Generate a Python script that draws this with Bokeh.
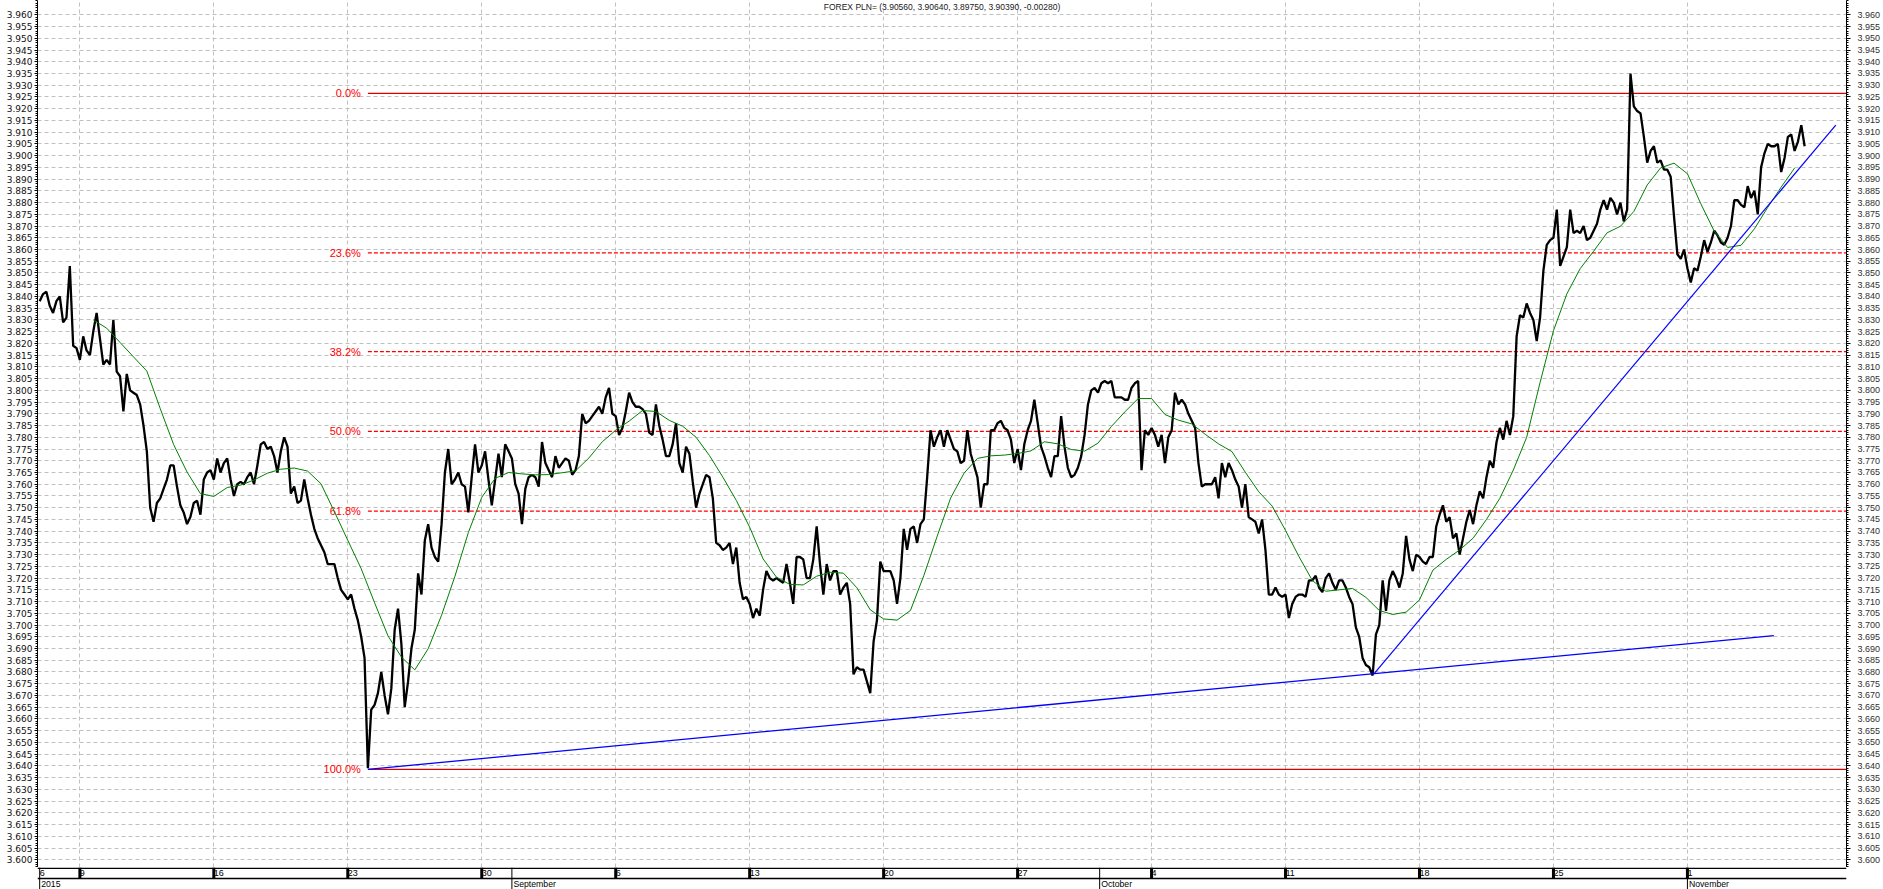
from bokeh.plotting import figure
from bokeh.models import Range1d, FixedTicker, NumeralTickFormatter, LinearAxis, Label, Span
from bokeh.layouts import column
from bokeh.embed import file_html
from bokeh.resources import INLINE
from bokeh.core.properties import value

TITLE = "FOREX PLN= (3.90560, 3.90640, 3.89750, 3.90390, -0.00280)"

# 3-hour bars (8 per trading day); bar 0 = Thu 6 Aug 2015
price = [
    3.838, 3.841, 3.842, 3.836, 3.833, 3.838, 3.840, 3.829, 3.831, 3.853,
    3.819, 3.818, 3.813, 3.823, 3.817, 3.815, 3.825, 3.833, 3.822, 3.811,
    3.813, 3.811, 3.830, 3.808, 3.806, 3.791, 3.807, 3.800, 3.799, 3.798,
    3.794, 3.785, 3.774, 3.750, 3.744, 3.752, 3.754, 3.758, 3.762, 3.768,
    3.768, 3.759, 3.751, 3.748, 3.743, 3.746, 3.752, 3.753, 3.747, 3.762,
    3.765, 3.766, 3.762, 3.771, 3.765, 3.769, 3.771, 3.762, 3.755, 3.760,
    3.761, 3.760, 3.763, 3.765, 3.760, 3.768, 3.777, 3.778, 3.775, 3.776,
    3.772, 3.765, 3.774, 3.780, 3.776, 3.756, 3.759, 3.752, 3.753, 3.762,
    3.754, 3.747, 3.741, 3.737, 3.734, 3.731, 3.726, 3.726, 3.726, 3.720,
    3.715, 3.713, 3.711, 3.713, 3.707, 3.702, 3.695, 3.686, 3.639, 3.664,
    3.666, 3.671, 3.680, 3.670, 3.662, 3.673, 3.698, 3.707, 3.692, 3.665,
    3.676, 3.690, 3.698, 3.722, 3.713, 3.736, 3.743, 3.733, 3.729, 3.727,
    3.743, 3.765, 3.775, 3.760, 3.762, 3.765, 3.760, 3.759, 3.748, 3.763,
    3.777, 3.765, 3.768, 3.774, 3.762, 3.751, 3.762, 3.773, 3.763, 3.777,
    3.774, 3.771, 3.760, 3.756, 3.743, 3.758, 3.763, 3.764, 3.763, 3.759,
    3.778, 3.769, 3.766, 3.763, 3.772, 3.767, 3.769, 3.771, 3.770, 3.764,
    3.766, 3.772, 3.790, 3.786, 3.787, 3.789, 3.791, 3.793, 3.790, 3.797,
    3.801, 3.790, 3.789, 3.781, 3.784, 3.791, 3.799, 3.795, 3.793, 3.793,
    3.792, 3.790, 3.782, 3.781, 3.794, 3.785, 3.779, 3.772, 3.772, 3.777,
    3.786, 3.769, 3.765, 3.776, 3.773, 3.761, 3.750, 3.756, 3.760, 3.764,
    3.763, 3.754, 3.735, 3.734, 3.732, 3.733, 3.735, 3.726, 3.733, 3.718,
    3.711, 3.712, 3.709, 3.703, 3.707, 3.704, 3.715, 3.723, 3.720, 3.719,
    3.720, 3.719, 3.718, 3.726, 3.718, 3.709, 3.729, 3.729, 3.728, 3.720,
    3.720, 3.728, 3.742, 3.726, 3.713, 3.726, 3.719, 3.723, 3.723, 3.713,
    3.716, 3.718, 3.709, 3.679, 3.682, 3.681, 3.681, 3.676, 3.671, 3.693,
    3.702, 3.727, 3.723, 3.723, 3.723, 3.719, 3.709, 3.720, 3.741, 3.732,
    3.741, 3.742, 3.735, 3.743, 3.745, 3.763, 3.783, 3.776, 3.780, 3.783,
    3.776, 3.783, 3.779, 3.775, 3.774, 3.769, 3.770, 3.783, 3.773, 3.768,
    3.763, 3.750, 3.760, 3.760, 3.783, 3.783, 3.786, 3.787, 3.784, 3.783,
    3.779, 3.769, 3.775, 3.766, 3.777, 3.783, 3.787, 3.796, 3.786, 3.776,
    3.772, 3.767, 3.763, 3.772, 3.772, 3.789, 3.776, 3.767, 3.763, 3.764,
    3.767, 3.772, 3.781, 3.794, 3.800, 3.801, 3.799, 3.803, 3.804, 3.803,
    3.804, 3.797, 3.797, 3.797, 3.796, 3.796, 3.801, 3.803, 3.804, 3.766,
    3.783, 3.781, 3.784, 3.781, 3.776, 3.781, 3.769, 3.780, 3.783, 3.799,
    3.794, 3.796, 3.794, 3.790, 3.787, 3.784, 3.769, 3.759, 3.760, 3.760,
    3.760, 3.763, 3.754, 3.769, 3.763, 3.769, 3.766, 3.762, 3.759, 3.750,
    3.760, 3.746, 3.745, 3.744, 3.739, 3.745, 3.732, 3.713, 3.713, 3.716,
    3.713, 3.712, 3.713, 3.703, 3.709, 3.712, 3.713, 3.713, 3.712, 3.719,
    3.719, 3.721, 3.716, 3.714, 3.720, 3.722, 3.718, 3.715, 3.719, 3.719,
    3.716, 3.712, 3.709, 3.699, 3.695, 3.686, 3.683, 3.682, 3.6785, 3.696,
    3.700, 3.719, 3.706, 3.719, 3.723, 3.720, 3.716, 3.722, 3.738, 3.728,
    3.723, 3.730, 3.729, 3.727, 3.726, 3.729, 3.729, 3.742, 3.747, 3.751,
    3.744, 3.746, 3.737, 3.739, 3.730, 3.737, 3.744, 3.749, 3.743, 3.751,
    3.757, 3.754, 3.763, 3.770, 3.767, 3.778, 3.784, 3.779, 3.787, 3.781,
    3.789, 3.823, 3.832, 3.831, 3.837, 3.833, 3.830, 3.821, 3.831, 3.851,
    3.862, 3.864, 3.865, 3.877, 3.853, 3.857, 3.861, 3.877, 3.867, 3.868,
    3.867, 3.870, 3.864, 3.865, 3.868, 3.871, 3.877, 3.881, 3.877, 3.882,
    3.880, 3.875, 3.880, 3.872, 3.877, 3.935, 3.921, 3.919, 3.918, 3.908,
    3.897, 3.902, 3.904, 3.897, 3.898, 3.894, 3.894, 3.891, 3.874, 3.858,
    3.856, 3.860, 3.852, 3.846, 3.852, 3.851, 3.857, 3.864, 3.859, 3.863,
    3.868, 3.866, 3.863, 3.862, 3.865, 3.870, 3.881, 3.881, 3.879, 3.878,
    3.887, 3.882, 3.885, 3.875, 3.895, 3.901, 3.905, 3.904, 3.904, 3.905,
    3.893, 3.899, 3.908, 3.909, 3.902, 3.906, 3.913, 3.904,
]
bars = list(range(len(price)))

# moving average, read every half trading day (every 4 bars from bar 16)
ma_first_bar = 16
ma_every = 4
ma = [
    3.8300, 3.8265, 3.8204, 3.8143, 3.8082, 3.7922, 3.7769, 3.7652, 3.7560, 3.7548,
    3.7586, 3.7596, 3.7618, 3.7647, 3.7664, 3.7669, 3.7656, 3.7602, 3.7483, 3.7361,
    3.7240, 3.7095, 3.6954, 3.6864, 3.6809, 3.6899, 3.7042, 3.7208, 3.7394, 3.7544,
    3.7625, 3.7650, 3.7644, 3.7640, 3.7641, 3.7649, 3.7657, 3.7712, 3.7781, 3.7830,
    3.7869, 3.7914, 3.7910, 3.7872, 3.7847, 3.7800, 3.7722, 3.7630, 3.7531, 3.7417,
    3.7282, 3.7204, 3.7173, 3.7171, 3.7208, 3.7225, 3.7221, 3.7159, 3.7065, 3.7026,
    3.7021, 3.7062, 3.7211, 3.7379, 3.7541, 3.7647, 3.7710, 3.7721, 3.7724, 3.7731,
    3.7742, 3.7781, 3.7772, 3.7748, 3.7741, 3.7775, 3.7846, 3.7908, 3.7965, 3.7965,
    3.7897, 3.7873, 3.7857, 3.7813, 3.7772, 3.7739, 3.7651, 3.7568, 3.7507, 3.7403,
    3.7292, 3.7190, 3.7144, 3.7150, 3.7156, 3.7118, 3.7062, 3.7045, 3.7055, 3.7107,
    3.7234, 3.7280, 3.7320, 3.7370, 3.7450, 3.7540, 3.7660, 3.7800, 3.8033, 3.8254,
    3.8411, 3.8519, 3.8593, 3.8671, 3.8699, 3.8762, 3.8875, 3.8948, 3.8968, 3.8923,
    3.8795, 3.8678, 3.8609, 3.8618, 3.8688, 3.8780, 3.8866, 3.8947,
]
ma_bars = [ma_first_bar + ma_every * k for k in range(len(ma))]

# Fibonacci retracement (from the 24 Aug low to the November high)
fib_start_bar = 98
fib_high = 3.9265
fib_low = 3.6385
fib_ratios = [0.0, 0.236, 0.382, 0.5, 0.618, 1.0]
fib_labels = ["0.0%", "23.6%", "38.2%", "50.0%", "61.8%", "100.0%"]
fib_levels = [fib_high - r * (fib_high - fib_low) for r in fib_ratios]

# trend lines
trend1_x = [98, 517.8]
trend1_y = [3.6385, 3.6955]
trend2_x = [398.4, 536.3]
trend2_y = [3.6792, 3.9130]

# axes
x_min, x_max = -0.65, 539.5
y_min, y_max = 3.5967, 3.9661
y_major = [round(3.600 + 0.005 * k, 3) for k in range(73)]
y_minor = [round(3.597 + 0.001 * k, 3) for k in range(370)]
week_bars = [12 + 40 * k for k in range(13)]
week_labels = ["9", "16", "23", "30", "6", "13", "20", "27", "4", "11", "18", "25", "1"]
first_label = "6"
month_bars = [0, 141, 316.5, 492]
month_labels = ["2015", "September", "October", "November"]

FONT = "Liberation Sans"
GRID = "#c0c0c0"

p = figure(width=1883, height=867, x_range=Range1d(x_min, x_max), y_range=Range1d(y_min, y_max),
           x_axis_location=None, y_axis_location="left", toolbar_location=None,
           output_backend="svg", min_border_left=37, min_border_right=35,
           min_border_top=0, min_border_bottom=0)
p.outline_line_color = None
p.background_fill_color = "white"
p.border_fill_color = "white"

yax = p.yaxis[0]
yax.ticker = FixedTicker(ticks=y_major, minor_ticks=y_minor)
yax.formatter = NumeralTickFormatter(format="0.000")
yax.major_label_text_font = "DejaVu Sans"
yax.major_label_text_font_size = "9px"
yax.major_label_text_color = "#101010"
yax.major_label_standoff = 2
yax.major_tick_out = 3
yax.major_tick_in = 0
yax.minor_tick_out = 2
yax.minor_tick_in = 0
yax.axis_line_color = "black"
yax.major_tick_line_color = "black"
yax.minor_tick_line_color = "black"

rax = LinearAxis(ticker=FixedTicker(ticks=y_major, minor_ticks=y_minor),
                 formatter=NumeralTickFormatter(format="0.000"))
rax.major_label_text_font = FONT
rax.major_label_text_font_size = "9px"
rax.major_label_text_color = "#303030"
rax.major_label_standoff = 7
rax.major_tick_out = 4
rax.major_tick_in = 0
rax.minor_tick_out = 2
rax.minor_tick_in = 0
rax.axis_line_color = "black"
rax.major_tick_line_color = "black"
rax.minor_tick_line_color = "black"
p.add_layout(rax, "right")

p.ygrid.ticker = FixedTicker(ticks=y_major)
p.ygrid.grid_line_color = GRID
p.ygrid.grid_line_dash = "4 3"
p.xgrid.ticker = FixedTicker(ticks=week_bars)
p.xgrid.grid_line_color = GRID
p.xgrid.grid_line_dash = "4 3"

# Fibonacci lines and labels
for lvl, r in zip(fib_levels, fib_ratios):
    solid = r in (0.0, 1.0)
    p.line([fib_start_bar, x_max], [lvl, lvl], line_color="#dd0000" if solid else "#ff0000",
           line_width=1.2, line_dash="solid" if solid else "4 2")
p.text(x=[fib_start_bar] * len(fib_levels), y=fib_levels, text=fib_labels,
       text_align="right", text_baseline="middle", x_offset=-7,
       text_font=value(FONT), text_font_size="11px", text_color="#ff0000")

# price and moving average
p.line(bars, price, line_color="black", line_width=2.3)
p.line(ma_bars, ma, line_color="#008000", line_width=1)

# trend lines
p.line(trend1_x, trend1_y, line_color="#0000ff", line_width=1.3)
p.line(trend2_x, trend2_y, line_color="#0000ff", line_width=1.2)

p.add_layout(Label(x=(x_min + x_max) / 2, y=y_max, text=TITLE, text_align="center",
                   text_baseline="top", y_offset=-1, text_font=FONT,
                   text_font_size="8.5px", text_color="#202020"))

# date band under the chart
band = figure(width=1883, height=22, x_range=p.x_range, y_range=Range1d(0, 22),
              x_axis_location=None, y_axis_location=None, toolbar_location=None,
              output_backend="svg", min_border_left=37, min_border_right=35,
              min_border_top=0, min_border_bottom=0)
band.outline_line_color = None
band.grid.visible = False
band.background_fill_color = "white"
band.border_fill_color = "white"
band.add_layout(Span(location=21.3, dimension="width", line_color="black", line_width=1.6))
band.add_layout(Span(location=11, dimension="width", line_color="black", line_width=1.6))
band.text(x=[0] + week_bars, y=16.5, text=[first_label] + week_labels, x_offset=0,
          text_align="left", text_baseline="middle", text_font=value(FONT),
          text_font_size="9px", text_color="black")
band.segment(x0=week_bars, y0=11, x1=week_bars, y1=22, line_color="black", line_width=3)
band.segment(x0=month_bars, y0=0, x1=month_bars, y1=22, line_color="black", line_width=1)
band.text(x=month_bars, y=5.5, text=month_labels, x_offset=1.5,
          text_align="left", text_baseline="middle", text_font=value(FONT),
          text_font_size="8.7px", text_color="black")

layout = column(p, band)
open("out.html", "w").write(file_html(layout, INLINE))
